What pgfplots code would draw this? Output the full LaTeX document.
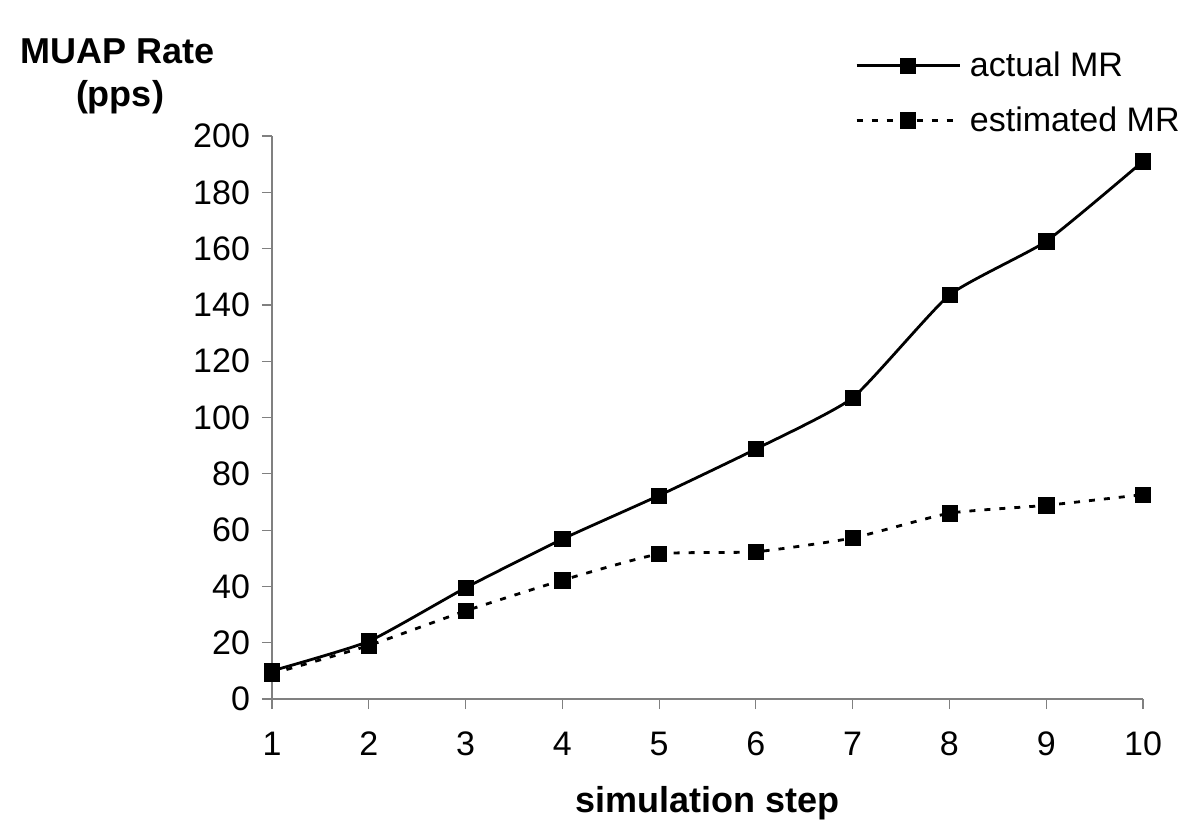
\documentclass[border=0pt]{standalone}
\usepackage{fontspec}
\setmainfont{Liberation Sans}
\usepackage{pgfplots}
\pgfplotsset{compat=1.18}
\definecolor{axgray}{HTML}{808080}
\begin{document}
\begin{tikzpicture}
\path[use as bounding box] (-136bp,-70.5bp) rectangle (464bp,349.5bp);
\begin{axis}[
  name=ax, at={(0,0)}, anchor=south west,
  scale only axis, width=435.5bp, height=281.5bp,
  xmin=1, xmax=10, ymin=0, ymax=200,
  xtick={1,...,10}, ytick={0,20,...,200},
  axis x line*=bottom, axis y line*=left,
  axis line style={axgray, line width=0.6bp, -},
  tick style={axgray, line width=0.6bp},
  tick align=outside, major tick length=5bp,
  /pgf/number format/assume math mode=true,
  tick label style={font=\fontsize{17bp}{20bp}\selectfont},
  xticklabel style={yshift=-8bp},
  yticklabel style={xshift=-2.5bp},
  xlabel={simulation step},
  xlabel style={font=\fontsize{18bp}{21bp}\selectfont\bfseries, at={(axis description cs:0.5,0)}, anchor=base, yshift=-56.5bp},
  clip=false,
  legend style={draw=none, fill=none, at={(rel axis cs:0.669,1.0765)}, anchor=west,
     font=\fontsize{17bp}{20bp}\selectfont, inner sep=0pt, row sep=13.5bp, column sep=4.5bp,
     nodes={inner sep=0pt}},
  legend cell align=left,
  legend image code/.code={\draw[mark repeat=2,mark phase=2,#1] plot coordinates {(0bp,0bp) (25.75bp,0bp) (51.5bp,0bp)};},
]
\addplot[black, line width=1.4bp, smooth, tension=0.3, mark=square*, mark size=3.8bp, mark options={solid, fill=black, line width=0.3bp}]
  coordinates {(1,10) (2,20.5) (3,39.5) (4,56.8) (5,72.3) (6,88.8) (7,107) (8,143.5) (9,162.6) (10,191)};
\addlegendentry{actual MR}
\addplot[black, line width=1.4bp, dash pattern=on 3bp off 4.5bp, smooth, tension=0.3, mark=square*, mark size=3.8bp, mark options={solid, fill=black, line width=0.3bp}]
  coordinates {(1,9) (2,19) (3,31.3) (4,42.2) (5,51.5) (6,52.3) (7,57.2) (8,66) (9,68.8) (10,72.6)};
\addlegendentry{estimated MR}
\node[anchor=base, font=\fontsize{18bp}{21bp}\selectfont\bfseries] at (rel axis cs:0,1) [xshift=-77.25bp, yshift=36bp] {MUAP Rate};
\node[anchor=base, font=\fontsize{18bp}{21bp}\selectfont\bfseries] at (rel axis cs:0,1) [xshift=-76bp, yshift=15bp] {(pps)};
\end{axis}
\end{tikzpicture}
\end{document}
